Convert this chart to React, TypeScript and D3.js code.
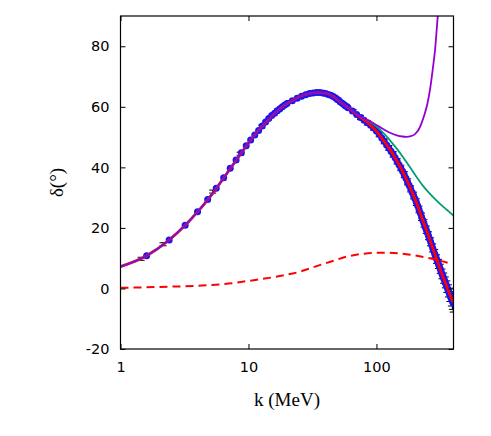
import React, { useEffect, useRef } from 'react';
import * as d3 from 'd3';

// phase shift data (blue points)
const dataK = [
  1.6, 2.4, 3.2, 4.0, 4.8, 5.6, 6.4, 7.2, 8.0, 8.8, 9.6, 10.4, 11.2, 12.0, 12.8, 13.6, 14.4, 15.2, 16.0, 16.8, 17.6, 18.4, 19.2, 20.0,
  22, 24, 26, 28, 30, 32, 34, 36, 38, 40, 42, 44, 46, 48, 50, 52, 54, 56, 58, 60,
  65, 70, 75, 80, 85, 90, 95, 100, 105, 110, 115, 120, 125, 130, 135, 140, 145, 150, 155, 160,
  165, 170, 175, 180, 185, 190, 195, 200, 205, 210, 215, 220, 225, 230, 235, 240, 245, 250, 255, 260,
  265, 270, 275, 280, 285, 290, 295, 300, 305, 310, 315, 320, 325, 330, 335, 340, 345, 350, 355, 360,
  365, 370, 375, 380, 385, 390, 395, 400,
];
const dataDelta = [
  10.8, 16.0, 20.9, 25.3, 29.4, 33.1, 36.6, 39.7, 42.4, 44.8, 47.1, 49.0, 50.7, 52.2, 53.7, 55.0, 56.1, 57.1, 57.9, 58.7, 59.4, 60.0, 60.6, 61.1,
  62.0, 62.8, 63.5, 64.0, 64.4, 64.6, 64.7, 64.7, 64.6, 64.4, 64.1, 63.8, 63.4, 62.9, 62.3, 61.7, 61.2, 60.7, 60.2, 59.7,
  58.6, 57.5, 56.5, 55.6, 54.7, 53.9, 53.0, 52.0, 50.9, 49.7, 48.6, 47.4, 46.4, 45.3, 44.3, 43.2, 42.0, 40.9, 39.8, 38.7,
  37.6, 36.4, 35.2, 34.1, 32.9, 31.8, 30.7, 29.6, 28.5, 27.3, 26.1, 24.9, 23.7, 22.6, 21.5, 20.4, 19.4, 18.4, 17.4, 16.4,
  15.4, 14.4, 13.4, 12.4, 11.5, 10.6, 9.7, 8.9, 8.1, 7.3, 6.5, 5.6, 4.8, 4.1, 3.4, 2.7, 2.0, 1.3, 0.6, -0.1,
  -0.8, -1.5, -2.1, -2.8, -3.4, -4.0, -4.5, -5.0,
];

// second data set, black error bars
const errK = [
  1.45, 2.15, 5.25, 8.6, 12.7, 17, 21, 25, 30, 36, 43, 50, 58, 66, 75, 85, 95, 105, 115, 125, 135, 145, 155, 165,
  175, 185, 195, 205, 215, 225, 235, 245, 255, 265, 275, 285, 295, 305, 315, 325, 335, 345, 355, 365, 375, 385, 392, 398,
];
const errDelta = [
  9.8, 14.6, 32.0, 44.5, 53.5, 58.9, 61.6, 63.2, 64.4, 64.7, 64.0, 62.3, 60.2, 58.4, 56.5, 54.7, 53.0, 50.9, 48.6, 46.4, 44.3, 42.0, 39.8, 37.6,
  35.2, 32.9, 30.7, 28.5, 26.1, 23.7, 21.5, 19.4, 17.4, 15.4, 13.4, 11.5, 9.7, 8.1, 6.5, 4.8, 3.4, 2.0, 0.6, -0.8, -2.1, -3.4, -4.2, -4.8,
];
const errSize = [
  0.5, 0.5, 0.5, 0.5, 0.5, 0.5, 0.5, 0.5, 0.5, 0.5, 0.5, 0.6, 0.6, 0.6, 0.7, 0.7, 0.7, 0.8, 0.8, 0.8, 0.9, 0.9, 0.9, 1.0,
  1.0, 1.0, 1.1, 1.1, 1.1, 1.2, 1.2, 1.2, 1.3, 1.3, 1.3, 1.4, 1.4, 1.5, 1.5, 1.6, 1.7, 1.8, 1.9, 2.0, 2.2, 2.4, 2.7, 3.0,
];

// full fit (red)
const fitK = [1, 1.6, 2.4, 3.2, 4, 4.8, 5.6, 6.4, 7.2, 8, 8.8, 9.6, 10.4, 12, 14, 16, 18.7, 22, 26, 30, 35, 40, 46, 52, 60, 74, 89, 100, 113, 128, 144, 158, 172, 190, 206, 222, 239, 258, 278, 300, 323, 355, 387, 400];
const fitDelta = [7.2, 10.8, 16.0, 20.9, 25.3, 29.3, 33.0, 36.5, 39.6, 42.3, 44.8, 47.0, 49.0, 52.3, 55.3, 57.8, 60.2, 62.1, 63.6, 64.4, 64.7, 64.5, 63.4, 61.6, 59.7, 56.7, 54.1, 51.9, 49.0, 45.8, 42.2, 39.2, 35.9, 31.8, 28.2, 24.4, 20.6, 16.8, 12.8, 9.0, 5.0, 0.6, -3.5, -4.6];

// green curve
const greenK = [1, 1.6, 2.4, 3.2, 4, 4.8, 5.6, 6.4, 7.2, 8, 8.8, 9.6, 10.4, 12, 14, 16, 18.7, 22, 26, 30, 35, 40, 46, 52, 60, 74, 85, 95, 105, 113, 127, 144, 160, 183, 205, 232, 261, 295, 330, 354, 380, 400];
const greenDelta = [7.2, 10.8, 16.0, 20.9, 25.3, 29.3, 33.0, 36.5, 39.6, 42.3, 44.8, 47.0, 49.0, 52.3, 55.3, 57.8, 60.2, 62.1, 63.6, 64.4, 64.7, 64.5, 63.4, 61.7, 59.8, 56.9, 55.5, 54.2, 52.7, 51.4, 49.0, 46.2, 43.6, 40.0, 36.9, 33.8, 31.3, 29.0, 27.1, 26.0, 24.9, 24.0];

// purple curve
const purpleK = [1, 1.6, 2.4, 3.2, 4, 4.8, 5.6, 6.4, 7.2, 8, 8.8, 9.6, 10.4, 12, 14, 16, 18.7, 22, 26, 30, 35, 40, 46, 52, 60, 74, 85, 95, 110, 125, 144, 160, 172, 186, 200, 214, 226, 238, 250, 262, 275, 287, 301, 315];
const purpleDelta = [7.2, 10.8, 16.0, 20.9, 25.3, 29.3, 33.0, 36.5, 39.6, 42.3, 44.8, 47.0, 49.0, 52.3, 55.3, 57.8, 60.2, 62.1, 63.6, 64.4, 64.7, 64.5, 63.4, 61.7, 59.8, 56.9, 55.6, 54.6, 52.9, 51.6, 50.6, 50.2, 50.1, 50.3, 51.0, 52.5, 54.8, 57.6, 61.0, 65.6, 72.2, 78.8, 89.8, 101];

// red dashed curve
const dashK = [1, 2, 4, 7, 10, 17.6, 25, 32, 45, 58.5, 80, 113, 150, 194, 260, 300, 360];
const dashDelta = [0.2, 0.5, 0.9, 1.6, 2.5, 4.1, 5.5, 7.0, 9.0, 10.5, 11.5, 11.8, 11.6, 11.0, 10.0, 9.4, 8.5];

const xTicks = [1, 10, 100];
const yTicks = [-20, 0, 20, 40, 60, 80];

const W = 491;
const H = 436;
const margin = { top: 16, right: 37.5, bottom: 87, left: 120.5 };

const zip = (ks: number[], ds: number[]) => ks.map((k, i) => [k, ds[i]] as [number, number]);

const App = () => {
  const ref = useRef<SVGSVGElement>(null);

  useEffect(() => {
    const svg = d3.select(ref.current);
    svg.selectAll('*').remove();

    const x = d3.scaleLog().domain([1, 400]).range([margin.left, W - margin.right]);
    const y = d3.scaleLinear().domain([-20, 90]).range([H - margin.bottom, margin.top]);
    const [x0, x1] = x.range();
    const [y0, y1] = y.range();

    svg.append('defs')
      .append('clipPath')
      .attr('id', 'plot-clip')
      .append('rect')
      .attr('x', x0)
      .attr('y', y1)
      .attr('width', x1 - x0)
      .attr('height', y0 - y1);

    const plot = svg.append('g').attr('clip-path', 'url(#plot-clip)');

    // error bars
    const errs = errK.map((k, i) => ({ k, d: errDelta[i], e: errSize[i] }));
    const eb = plot.append('g').attr('stroke', '#000').attr('stroke-width', 1).attr('fill', 'none');
    eb.selectAll('path')
      .data(errs)
      .enter()
      .append('path')
      .attr('d', (p) => {
        const cx = x(p.k);
        const ya = y(p.d - p.e);
        const yb = y(p.d + p.e);
        return `M${cx},${ya}V${yb}M${cx - 3.5},${ya}H${cx + 3.5}M${cx - 3.5},${yb}H${cx + 3.5}`;
      });

    // data points
    plot.append('g')
      .selectAll('circle')
      .data(zip(dataK, dataDelta))
      .enter()
      .append('circle')
      .attr('cx', (d) => x(d[0]))
      .attr('cy', (d) => y(d[1]))
      .attr('r', 3.5)
      .attr('fill', '#1414ff');

    const line = d3
      .line<[number, number]>()
      .x((d) => x(d[0]))
      .y((d) => y(d[1]))
      .curve(d3.curveMonotoneX);

    plot.append('path')
      .attr('d', line(zip(fitK, fitDelta)))
      .attr('fill', 'none')
      .attr('stroke', '#ff0000')
      .attr('stroke-width', 2.8);

    plot.append('path')
      .attr('d', line(zip(greenK, greenDelta)))
      .attr('fill', 'none')
      .attr('stroke', '#009e73')
      .attr('stroke-width', 1.8);

    plot.append('path')
      .attr('d', line(zip(purpleK, purpleDelta)))
      .attr('fill', 'none')
      .attr('stroke', '#9400d3')
      .attr('stroke-width', 1.8);

    plot.append('path')
      .attr('d', line(zip(dashK, dashDelta)))
      .attr('fill', 'none')
      .attr('stroke', '#ff0000')
      .attr('stroke-width', 2)
      .attr('stroke-dasharray', '8,5');

    // axes, ticks inward and mirrored
    const fmt = (d: d3.NumberValue) => String(d);
    const styleAxis = (g: d3.Selection<SVGGElement, unknown, null, undefined>) => {
      g.select('.domain').remove();
      g.attr('font-family', 'DejaVu Sans, sans-serif').attr('font-size', 14.5);
      g.selectAll('line').attr('stroke', '#000');
      g.selectAll('text').attr('fill', '#000');
    };

    svg.append('g')
      .attr('transform', `translate(0,${y0})`)
      .call(d3.axisBottom(x).tickValues(xTicks).tickFormat(fmt).tickSizeInner(-5).tickSizeOuter(0).tickPadding(13))
      .call(styleAxis);
    svg.append('g')
      .attr('transform', `translate(0,${y1})`)
      .call(d3.axisTop(x).tickValues(xTicks).tickFormat(() => '').tickSizeInner(-5).tickSizeOuter(0))
      .call(styleAxis);
    svg.append('g')
      .attr('transform', `translate(${x0},0)`)
      .call(d3.axisLeft(y).tickValues(yTicks).tickFormat(fmt).tickSizeInner(-5).tickSizeOuter(0).tickPadding(11))
      .call(styleAxis);
    svg.append('g')
      .attr('transform', `translate(${x1},0)`)
      .call(d3.axisRight(y).tickValues(yTicks).tickFormat(() => '').tickSizeInner(-5).tickSizeOuter(0))
      .call(styleAxis);

    svg.append('rect')
      .attr('x', x0)
      .attr('y', y1)
      .attr('width', x1 - x0)
      .attr('height', y0 - y1)
      .attr('fill', 'none')
      .attr('stroke', '#000')
      .attr('stroke-width', 1.2);

    svg.append('text')
      .attr('x', (x0 + x1) / 2)
      .attr('y', 406)
      .attr('text-anchor', 'middle')
      .attr('font-family', 'Liberation Serif, serif')
      .attr('font-size', 19)
      .text('k (MeV)');

    svg.append('text')
      .attr('transform', `translate(63,${(y0 + y1) / 2}) rotate(-90)`)
      .attr('text-anchor', 'middle')
      .attr('font-family', 'Liberation Serif, serif')
      .attr('font-size', 19)
      .text('δ(°)');
  }, []);

  return (
    <svg
      ref={ref}
      width={W}
      height={H}
      style={{ position: 'absolute', left: 0, top: 0, background: '#fff' }}
    />
  );
};

export default App;
